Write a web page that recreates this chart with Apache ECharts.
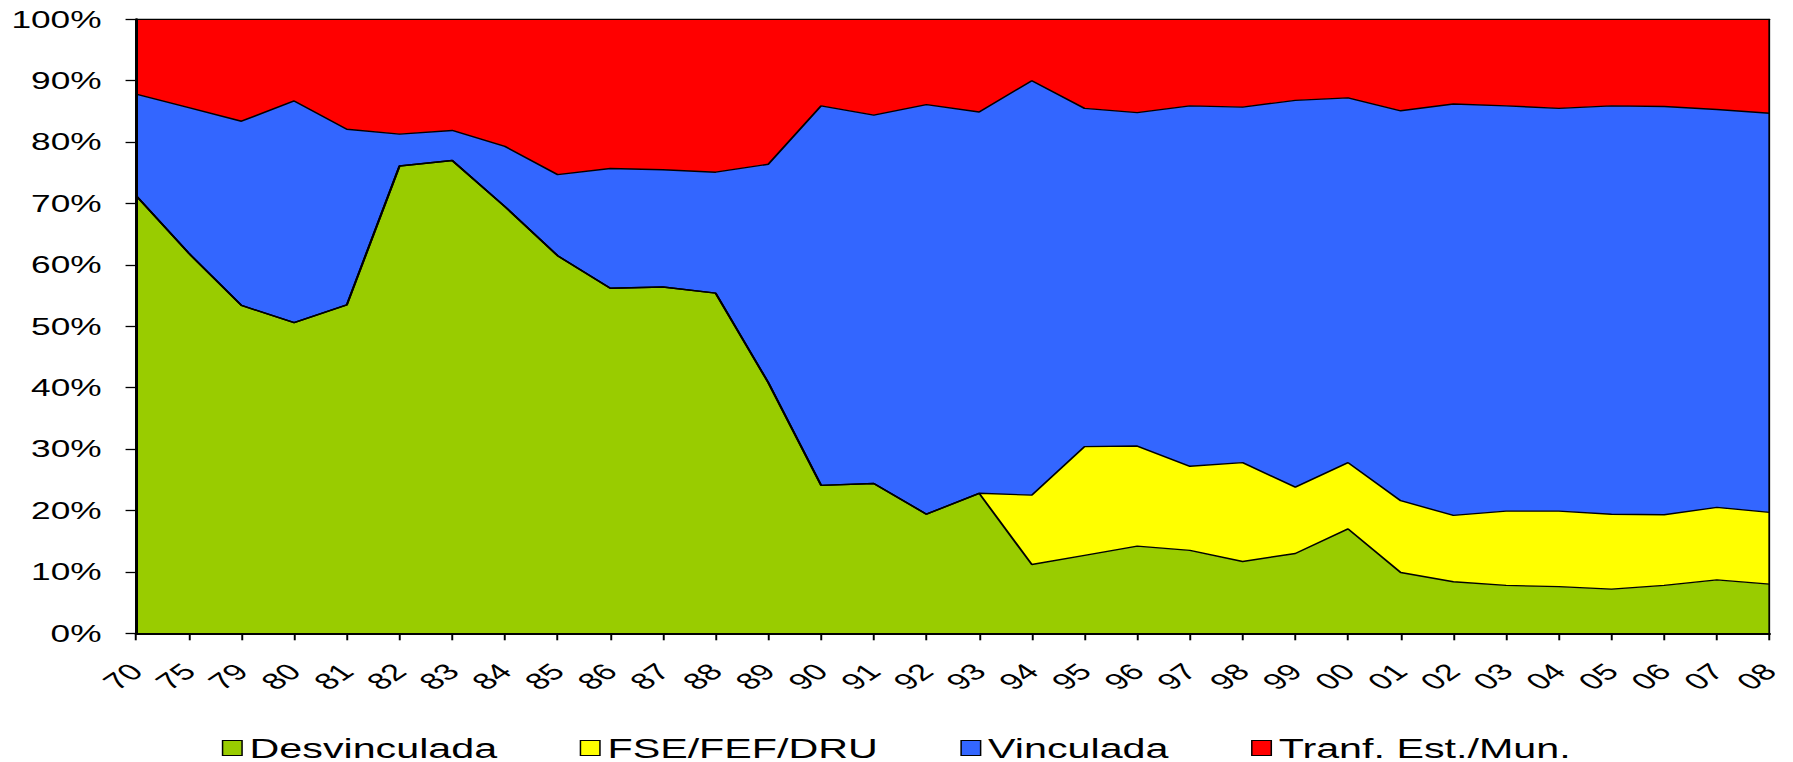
<!DOCTYPE html>
<html>
<head>
<meta charset="utf-8">
<script src="https://cdn.jsdelivr.net/npm/echarts@6/dist/echarts.min.js"></script>
<style>
html,body{margin:0;padding:0;background:#fff;overflow:hidden;width:1793px;height:762px;}
#chart{width:1195.33px;height:762px;transform:scaleX(1.5);transform-origin:0 0;}
</style>
</head>
<body>
<div id="chart"></div>
<script>
const categories = ['70','75','79','80','81','82','83','84','85','86','87','88','89','90','91','92','93','94','95','96','97','98','99','00','01','02','03','04','05','06','07','08'];
const desvinculada = [71.3,61.9,53.4,50.6,53.5,76.1,77.0,69.5,61.5,56.2,56.4,55.4,40.8,24.1,24.4,19.4,22.8,11.2,12.7,14.2,13.5,11.7,13.0,17.0,9.9,8.4,7.8,7.6,7.2,7.8,8.7,8.0];
const fseFefDru = [0,0,0,0,0,0,0,0,0,0,0,0,0,0,0,0,0,11.3,17.7,16.3,13.7,16.1,10.8,10.8,11.7,10.8,12.1,12.3,12.2,11.5,11.8,11.7];
const vinculada = [16.5,23.7,30.0,36.1,28.6,5.2,4.9,9.8,13.2,19.5,19.1,19.7,35.6,61.8,60.0,66.7,62.1,67.5,55.1,54.3,58.7,57.9,63.0,59.4,63.5,67.0,66.0,65.6,66.5,66.5,64.8,65.0];
const tranfEstMun = [12.2,14.4,16.6,13.3,17.9,18.7,18.1,20.7,25.3,24.3,24.5,24.9,23.6,14.1,15.6,13.9,15.1,10.0,14.5,15.2,14.1,14.3,13.2,12.8,14.9,13.8,14.1,14.5,14.1,14.2,14.7,15.3];
const seriesNames = ['Desvinculada','FSE/FEF/DRU','Vinculada','Tranf. Est./Mun.'];
const seriesColors = ['#99CC00','#FFFF00','#3366FF','#FF0000'];
const seriesData = [desvinculada, fseFefDru, vinculada, tranfEstMun];

const FONT = 'Liberation Sans, Arial, sans-serif';
const chart = echarts.init(document.getElementById('chart'), null, {renderer: 'svg'});
chart.setOption({
  animation: false,
  backgroundColor: '#fff',
  textStyle: {fontFamily: FONT, color: '#000'},
  grid: {left: 90.7, right: 15.3, top: 19.3, bottom: 128.7, containLabel: false},
  legend: {
    data: seriesNames,
    left: 'center',
    top: 729,
    icon: 'rect',
    itemWidth: 13,
    itemHeight: 15,
    itemGap: 55,
    itemStyle: {borderColor: '#000', borderWidth: 1},
    textStyle: {fontFamily: FONT, fontSize: 27.5, color: '#000'}
  },
  xAxis: {
    type: 'category',
    data: categories,
    boundaryGap: false,
    z: 10,
    axisLine: {lineStyle: {color: '#000', width: 2}},
    axisTick: {show: true, interval: 0, length: 7, lineStyle: {color: '#000', width: 1.3}},
    axisLabel: {interval: 0, rotate: 45, margin: 34, fontSize: 23, color: '#000', fontFamily: FONT},
    splitLine: {show: false}
  },
  yAxis: [{
    type: 'value',
    min: 0, max: 100, interval: 10,
    z: 10,
    axisLine: {show: true, lineStyle: {color: '#000', width: 2}},
    axisTick: {show: true, length: 7, lineStyle: {color: '#000', width: 1.3}},
    axisLabel: {formatter: '{value}%', margin: 23, fontSize: 23.5, color: '#000', fontFamily: FONT},
    splitLine: {show: false}
  }, {
    type: 'value',
    min: 0, max: 100, interval: 10,
    position: 'right',
    z: 10,
    axisLine: {show: true, lineStyle: {color: '#000', width: 1.2}},
    axisTick: {show: false},
    axisLabel: {show: false},
    splitLine: {show: false}
  }],
  series: seriesNames.map((name, i) => ({
    name: name,
    type: 'line',
    stack: 'total',
    data: seriesData[i],
    symbol: 'none',
    showSymbol: false,
    itemStyle: {color: seriesColors[i]},
    lineStyle: {color: '#000', width: 1.4},
    areaStyle: {color: seriesColors[i], opacity: 1}
  }))
});
</script>
</body>
</html>
